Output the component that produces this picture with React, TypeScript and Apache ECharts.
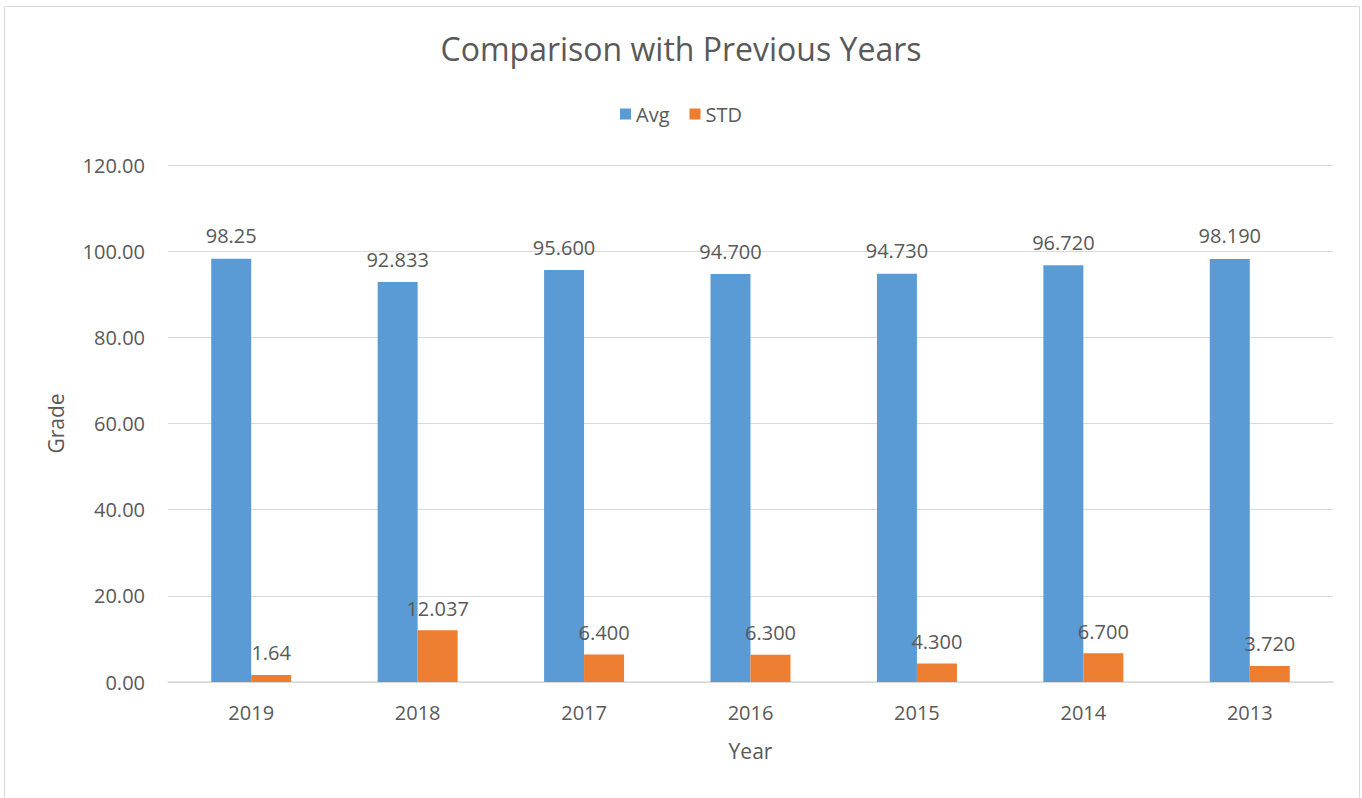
import React, { useEffect, useRef } from "react";
import * as echarts from "echarts";

const years = ["2019", "2018", "2017", "2016", "2015", "2014", "2013"];
const avgValues = [98.25, 92.833, 95.6, 94.7, 94.73, 96.72, 98.19];
const stdValues = [1.64, 12.037, 6.4, 6.3, 4.3, 6.7, 3.72];
const avgLabels = ["98.25", "92.833", "95.600", "94.700", "94.730", "96.720", "98.190"];
const stdLabels = ["1.64", "12.037", "6.400", "6.300", "4.300", "6.700", "3.720"];
const yTicks = [0, 20, 40, 60, 80, 100, 120];

const FONT = "'Open Sans', 'Noto Sans', sans-serif";
const TEXT = "#595959";

export default function App() {
  const ref = useRef<HTMLDivElement>(null);
  useEffect(() => {
    if (!ref.current) return;
    const chart = echarts.init(ref.current, undefined, { renderer: "svg" });
    chart.setOption({
      animation: false,
      backgroundColor: "#ffffff",
      textStyle: { fontFamily: FONT, color: TEXT },
      title: {
        text: "Comparison with Previous Years",
        left: "center",
        top: 27,
        textStyle: { fontFamily: FONT, fontSize: 32, fontWeight: "normal", color: TEXT },
      },
      legend: {
        top: 99,
        left: "center",
        itemWidth: 11,
        itemHeight: 11,
        itemGap: 20,
        icon: "rect",
        textStyle: { fontFamily: FONT, fontSize: 20, color: TEXT },
        data: ["Avg", "STD"],
      },
      graphic: [
        {
          type: "rect",
          shape: { x: 4.5, y: 6.5, width: 1355, height: 800 },
          style: { fill: "none", stroke: "#D9D9D9", lineWidth: 1 },
          silent: true,
        },
      ],
      grid: { left: 168, right: 29, top: 165, bottom: 116, containLabel: false },
      xAxis: {
        type: "category",
        data: years,
        name: "Year",
        nameLocation: "middle",
        nameGap: 58,
        nameTextStyle: { fontFamily: FONT, fontSize: 21, color: TEXT },
        axisLine: { show: true, lineStyle: { color: "#D9D9D9", width: 1.5 } },
        axisTick: { show: false },
        axisLabel: { fontFamily: FONT, fontSize: 20, color: TEXT, margin: 20 },
      },
      yAxis: {
        type: "value",
        min: yTicks[0],
        max: yTicks[yTicks.length - 1],
        interval: 20,
        name: "Grade",
        nameLocation: "middle",
        nameGap: 102,
        nameRotate: 90,
        nameTextStyle: { fontFamily: FONT, fontSize: 21, color: TEXT },
        axisLine: { show: false },
        axisTick: { show: false },
        splitLine: { lineStyle: { color: "#D9D9D9", width: 1 } },
        axisLabel: {
          fontFamily: FONT,
          fontSize: 20,
          color: TEXT,
          margin: 23,
          formatter: (v: number) => v.toFixed(2),
        },
      },
      series: [
        {
          name: "Avg",
          type: "bar",
          data: avgValues,
          barWidth: 40,
          barGap: "0%",
          itemStyle: { color: "#5B9BD5" },
          label: {
            show: true,
            position: "top",
            distance: 13,
            fontFamily: FONT,
            fontSize: 20,
            color: TEXT,
            formatter: (p: any) => avgLabels[p.dataIndex],
          },
        },
        {
          name: "STD",
          type: "bar",
          data: stdValues,
          barWidth: 40,
          barGap: "0%",
          itemStyle: { color: "#ED7D31" },
          label: {
            show: true,
            position: "top",
            distance: 12,
            fontFamily: FONT,
            fontSize: 20,
            color: TEXT,
            formatter: (p: any) => stdLabels[p.dataIndex],
          },
        },
      ],
    });
    return () => chart.dispose();
  }, []);
  return (
    <div
      ref={ref}
      style={{ position: "fixed", left: 0, top: 0, width: 1362, height: 798 }}
    />
  );
}
